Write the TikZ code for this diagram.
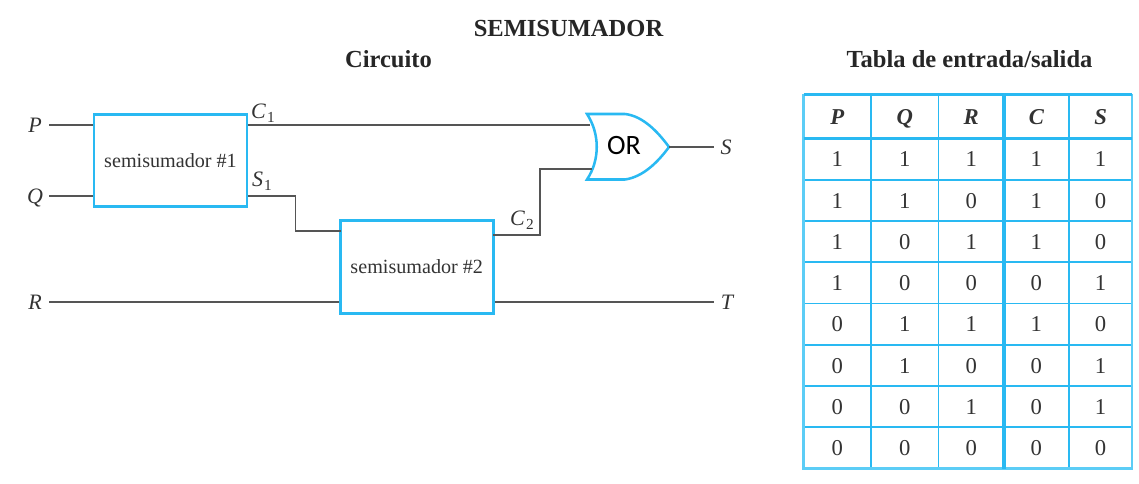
\documentclass[tikz,border=0pt]{standalone}
\usepackage{fontspec}
\setmainfont{Liberation Serif}
\newfontfamily\orfont{Carlito}
\usepackage{xcolor}
\usetikzlibrary{
	calc,               %coordenadas
	positioning,        %posiciones relativas
	matrix              %tabla
}
\definecolor{azul}{HTML}{29B9F2}
\definecolor{azulclaro}{HTML}{5CCDF6}
\definecolor{tinta}{HTML}{333333}
\definecolor{cable}{HTML}{555555}
\newcommand{\etq}[2]{\textit{#1}\kern.8pt\raisebox{-.35ex}{\fontsize{11.5}{12}\selectfont #2}}
\tikzset{
	every picture/.style={
		>=latex,
		x=.75pt,y=-.75pt
}}
\tikzset{
	titulo/.style={font=\fontsize{18.4}{22}\selectfont\bfseries,text=black!85,inner sep=0},
	semi/.style={rectangle,draw=azul,line width=2.2pt,minimum width=114.75pt,minimum height=69.5pt,
		inner sep=0,text=tinta,font=\fontsize{15.1}{18}\selectfont},
	puerto/.style={inner sep=0,minimum width=21pt,text height=11pt,text depth=0pt,text=tinta,
		font=\fontsize{16.5}{20}\selectfont\itshape},
	salida/.style={inner sep=0,text=tinta,font=\fontsize{16.5}{20}\selectfont},
	cablecito/.style={draw=cable,line width=1.1pt},
	lineafina/.style={draw=azul,line width=1.2pt},
	lineagruesa/.style={draw=azul,line width=2.8pt},
	lineaborde/.style={draw=azulclaro,line width=1.6pt}
}

\begin{document}
\begin{tikzpicture}
\useasboundingbox (0,0) rectangle (1139,484);
% titulos
\node[titulo] (tit) at (568.5,28.5) {SEMISUMADOR};
\node[titulo] (circ) at (388.5,59) {Circuito};
\node[titulo] (tab) at (969.5,59) {Tabla de entrada/salida};
% circuito
\node[semi] (sum1) at (170.5,160.5) {semisumador \#1};
\node[semi] (sum2) at (416.75,267) {semisumador \#2};
\node[puerto] (P) at (35,125) {P};
\node[puerto] (Q) at (35,196) {Q};
\node[puerto] (R) at (35,302) {R};
\node[salida] (C1) at (263,113) {\etq{C}{1}};
\node[salida] (S1) at (262,181) {\etq{S}{1}};
\node[salida] (C2) at (522,220) {\etq{C}{2}};
\node[puerto,minimum width=18pt] (S) at (726,147) {S};
\node[puerto,minimum width=19.5pt] (T) at (727,302) {T};
\coordinate (en2) at (340.5,231);
\coordinate (sal2) at (493,235);
\coordinate (orA) at (590,125);
\coordinate (orB) at (592,169);
\coordinate (orC) at (669,147);
% puerta OR
\draw[draw=azul,line width=1.9pt,line join=miter] (587,114) -- (625,114)
	.. controls (643,116) and (658,132) .. (orC)
	.. controls (658,162) and (643,177) .. (625,179.5) -- (587,179.5)
	.. controls (600,160) and (600,134) .. cycle;
\node[inner sep=0,font=\fontsize{21}{24}\selectfont\orfont] (puerta) at (624,146) {OR};
% cables
\draw[cablecito] (P) -- (P -| sum1.west);
\draw[cablecito] (Q) -- (Q -| sum1.west);
\draw[cablecito] (R) -- (R -| sum2.west);
\draw[cablecito] (P -| sum1.east) -- (orA);
\draw[cablecito] (Q -| sum1.east) -- ++(47,0) |- (en2);
\draw[cablecito] (sal2) -- ++(47,0) |- (orB);
\draw[cablecito] (orC) -- (S);
\draw[cablecito] (R -| sum2.east) -- (T);
% tabla
\matrix[matrix of nodes,anchor=north west,inner sep=0,outer sep=0,row sep=0pt,column sep=0pt,
	nodes={inner sep=0,outer sep=0,minimum height=30.94pt,text height=11.5pt,text depth=0pt,text=tinta,font=\fontsize{17}{20}\selectfont},
	column 1/.style={nodes={minimum width=50.6pt}},
	column 2/.style={nodes={minimum width=50.6pt}},
	column 3/.style={nodes={minimum width=49.1pt}},
	column 4/.style={nodes={minimum width=48.75pt}},
	column 5/.style={nodes={minimum width=47.6pt}},
	row 1/.style={nodes={minimum height=33pt,font=\fontsize{17}{20}\selectfont\bfseries\itshape}}
] (tabla) at (803.5,94.5) {
P & Q & R & C & S \\
1 & 1 & 1 & 1 & 1 \\
1 & 1 & 0 & 1 & 0 \\
1 & 0 & 1 & 1 & 0 \\
1 & 0 & 0 & 0 & 1 \\
0 & 1 & 1 & 1 & 0 \\
0 & 1 & 0 & 0 & 1 \\
0 & 0 & 1 & 0 & 1 \\
0 & 0 & 0 & 0 & 0 \\
};
\draw[lineafina] (tabla-3-1.north west) -- (tabla-3-5.north east);
\draw[lineafina] (tabla-4-1.north west) -- (tabla-4-5.north east);
\draw[lineafina] (tabla-5-1.north west) -- (tabla-5-5.north east);
\draw[lineafina] (tabla-6-1.north west) -- (tabla-6-5.north east);
\draw[lineafina] (tabla-7-1.north west) -- (tabla-7-5.north east);
\draw[lineafina] (tabla-8-1.north west) -- (tabla-8-5.north east);
\draw[lineafina] (tabla-9-1.north west) -- (tabla-9-5.north east);
\draw[lineafina] (tabla-1-2.north west) -- (tabla-9-2.south west);
\draw[lineafina] (tabla-1-3.north west) -- (tabla-9-3.south west);
\draw[lineafina] (tabla-1-5.north west) -- (tabla-9-5.south west);
\draw[lineaborde] (tabla-1-1.north west) -- (tabla-9-1.south west) -- (tabla-9-5.south east) -- (tabla-1-5.north east);
\draw[lineagruesa] (tabla-1-4.north west) -- (tabla-9-4.south west);
\draw[lineagruesa] (tabla-1-1.north west) -- (tabla-1-5.north east);
\draw[lineagruesa] (tabla-2-1.north west) -- (tabla-2-5.north east);
\end{tikzpicture}
\end{document}
